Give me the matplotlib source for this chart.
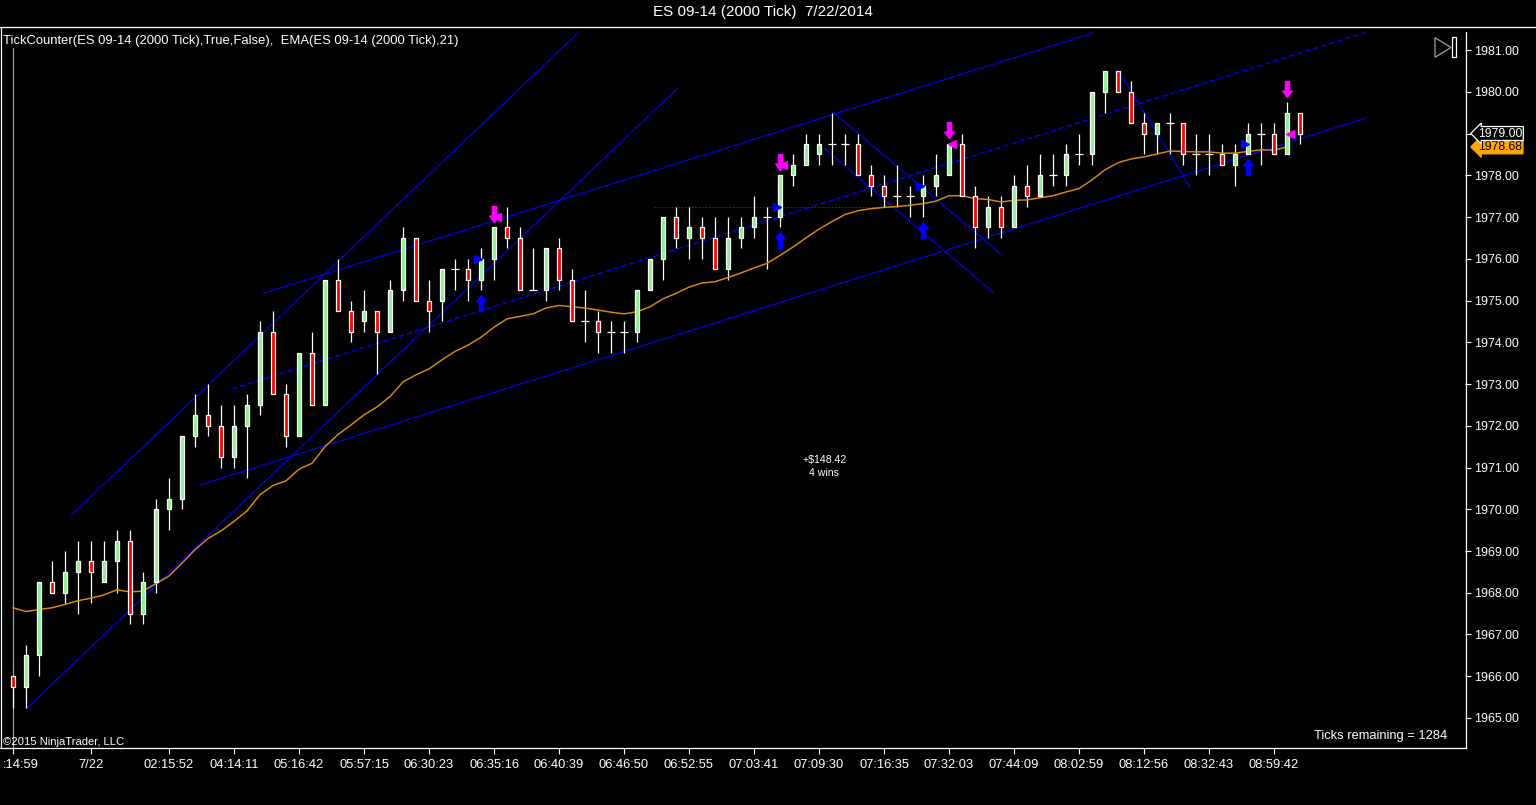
import matplotlib
matplotlib.use('Agg')
import matplotlib.pyplot as plt
from matplotlib.path import Path
from matplotlib.lines import Line2D
from matplotlib.patches import Polygon, Rectangle
from matplotlib.transforms import offset_copy, blended_transform_factory, ScaledTranslation
import numpy as np

plt.rcParams['font.family'] = ['Liberation Sans', 'DejaVu Sans']

# ---------------- data ----------------
opens = [1966.0, 1965.75, 1966.5, 1968.25, 1968.0, 1968.5, 1968.75, 1968.25, 1968.75, 1969.25,
         1967.5, 1968.25, 1970.0, 1970.25, 1971.75, 1972.25, 1972.0, 1971.25, 1972.0, 1972.5,
         1974.25, 1972.75, 1971.75, 1973.75, 1972.5, 1975.5, 1974.75, 1974.5, 1974.75, 1974.25,
         1975.25, 1976.5, 1975.0, 1975.0, 1975.75, 1975.75, 1975.5, 1976.0, 1976.75, 1976.5,
         1975.25, 1975.25, 1976.25, 1975.5, 1974.5, 1974.5, 1974.25, 1974.25, 1974.25, 1975.25,
         1976.0, 1977.0, 1976.5, 1976.75, 1976.5, 1975.75, 1976.5, 1976.75, 1977.0, 1977.0,
         1978.0, 1978.25, 1978.5, 1978.75, 1978.75, 1978.75, 1978.0, 1977.75, 1977.5, 1977.5,
         1977.5, 1977.75, 1978.0, 1978.75, 1977.5, 1976.75, 1977.25, 1976.75, 1977.75, 1977.5,
         1978.0, 1978.0, 1978.5, 1978.5, 1980.0, 1980.5, 1980.0, 1979.25, 1979.0, 1979.25,
         1979.25, 1978.5, 1978.5, 1978.5, 1978.25, 1978.5, 1979.0, 1979.0, 1978.5, 1979.5]
highs = [1966.0, 1966.75, 1968.25, 1968.75, 1969.0, 1969.25, 1969.25, 1969.25, 1969.5, 1969.5,
         1968.5, 1970.25, 1970.75, 1971.75, 1972.75, 1973.0, 1972.5, 1972.5, 1972.75, 1974.5,
         1974.75, 1973.0, 1973.75, 1974.25, 1975.5, 1976.0, 1975.0, 1975.25, 1974.75, 1975.5,
         1976.75, 1976.5, 1975.5, 1975.75, 1976.0, 1976.0, 1976.25, 1976.75, 1977.25, 1976.75,
         1976.25, 1976.25, 1976.5, 1975.75, 1975.25, 1974.75, 1974.5, 1974.5, 1975.25, 1976.0,
         1977.0, 1977.25, 1977.25, 1977.0, 1977.0, 1977.0, 1977.0, 1977.5, 1977.25, 1978.0,
         1978.5, 1979.0, 1979.0, 1979.5, 1979.0, 1979.0, 1978.25, 1978.0, 1978.25, 1977.75,
         1978.0, 1978.5, 1978.75, 1979.0, 1977.75, 1977.5, 1977.5, 1978.0, 1978.25, 1978.5,
         1978.5, 1978.75, 1979.0, 1980.0, 1980.5, 1980.5, 1980.25, 1979.5, 1979.25, 1979.5,
         1979.25, 1979.0, 1979.0, 1978.75, 1978.75, 1979.25, 1979.25, 1979.25, 1979.75, 1979.5]
lows = [1965.25, 1965.25, 1966.0, 1968.0, 1967.75, 1967.5, 1967.75, 1968.25, 1968.0, 1967.25,
        1967.25, 1968.0, 1969.5, 1970.0, 1971.5, 1971.75, 1971.0, 1971.0, 1970.75, 1972.25,
        1972.75, 1971.5, 1971.75, 1972.5, 1972.5, 1974.75, 1974.0, 1974.25, 1973.25, 1974.25,
        1975.0, 1975.0, 1974.25, 1974.5, 1975.25, 1975.0, 1975.25, 1975.5, 1976.25, 1975.25,
        1975.25, 1975.0, 1975.25, 1974.5, 1974.0, 1973.75, 1973.75, 1973.75, 1974.0, 1975.25,
        1975.5, 1976.25, 1976.0, 1976.0, 1975.75, 1975.5, 1976.25, 1976.5, 1975.75, 1976.75,
        1977.75, 1978.25, 1978.25, 1978.25, 1978.25, 1978.0, 1977.5, 1977.25, 1977.25, 1977.0,
        1977.0, 1977.5, 1978.0, 1977.5, 1976.25, 1976.5, 1976.5, 1976.75, 1977.25, 1977.5,
        1977.75, 1977.75, 1978.25, 1978.25, 1979.5, 1980.0, 1979.25, 1978.5, 1978.5, 1978.5,
        1978.25, 1978.0, 1978.0, 1978.25, 1977.75, 1978.5, 1978.25, 1978.5, 1978.5, 1978.75]
closes = [1965.75, 1966.5, 1968.25, 1968.0, 1968.5, 1968.75, 1968.5, 1968.75, 1969.25, 1967.5,
          1968.25, 1970.0, 1970.25, 1971.75, 1972.25, 1972.0, 1971.25, 1972.0, 1972.5, 1974.25,
          1972.75, 1971.75, 1973.75, 1972.5, 1975.5, 1974.75, 1974.25, 1974.75, 1974.25, 1975.25,
          1976.5, 1975.0, 1974.75, 1975.75, 1975.75, 1975.5, 1976.0, 1976.75, 1976.5, 1975.25,
          1975.25, 1976.25, 1975.5, 1974.5, 1974.5, 1974.25, 1974.25, 1974.25, 1975.25, 1976.0,
          1977.0, 1976.5, 1976.75, 1976.5, 1975.75, 1976.5, 1976.75, 1977.0, 1977.0, 1978.0,
          1978.25, 1978.75, 1978.75, 1978.75, 1978.75, 1978.0, 1977.75, 1977.5, 1977.5, 1977.5,
          1977.75, 1978.0, 1978.75, 1977.5, 1976.75, 1977.25, 1976.75, 1977.75, 1977.5, 1978.0,
          1978.0, 1978.5, 1978.5, 1980.0, 1980.5, 1980.0, 1979.25, 1979.0, 1979.25, 1979.25,
          1978.5, 1978.5, 1978.5, 1978.25, 1978.5, 1979.0, 1979.0, 1978.5, 1979.5, 1979.0]
ema21 = [1967.64, 1967.55, 1967.60, 1967.64, 1967.72, 1967.81, 1967.87, 1967.95, 1968.07, 1968.02,
         1968.04, 1968.22, 1968.40, 1968.71, 1969.03, 1969.30, 1969.48, 1969.71, 1969.96, 1970.35,
         1970.57, 1970.68, 1970.96, 1971.10, 1971.50, 1971.79, 1972.02, 1972.26, 1972.45, 1972.70,
         1973.05, 1973.22, 1973.36, 1973.58, 1973.78, 1973.93, 1974.12, 1974.36, 1974.56, 1974.62,
         1974.68, 1974.82, 1974.88, 1974.85, 1974.82, 1974.77, 1974.72, 1974.68, 1974.73, 1974.85,
         1975.04, 1975.17, 1975.32, 1975.42, 1975.45, 1975.55, 1975.66, 1975.78, 1975.89, 1976.08,
         1976.28, 1976.50, 1976.71, 1976.89, 1977.06, 1977.15, 1977.20, 1977.23, 1977.25, 1977.28,
         1977.32, 1977.38, 1977.51, 1977.51, 1977.44, 1977.42, 1977.36, 1977.40, 1977.41, 1977.46,
         1977.51, 1977.60, 1977.68, 1977.89, 1978.13, 1978.30, 1978.39, 1978.44, 1978.51, 1978.58,
         1978.57, 1978.56, 1978.56, 1978.53, 1978.53, 1978.57, 1978.61, 1978.60, 1978.68]

tick_bars = [0, 6, 12, 17, 22, 27, 32, 37, 42, 47, 52, 57, 62, 67, 72, 77, 82, 87, 92, 97]
tick_labels = [':14:59', '7/22', '02:15:52', '04:14:11', '05:16:42', '05:57:15', '06:30:23',
               '06:35:16', '06:40:39', '06:46:50', '06:52:55', '07:03:41', '07:09:30', '07:16:35',
               '07:32:03', '07:44:09', '08:02:59', '08:12:56', '08:32:43', '08:59:42']
price_ticks = list(range(1965, 1982))

# drawn trend lines: (bar0, price0, bar1, price1, style)
trend_lines = [
    (1.08, 1965.24, 51.15, 1980.09, 'solid'),
    (4.46, 1969.85, 43.46, 1981.41, 'solid'),
    (19.23, 1975.17, 83.08, 1981.41, 'solid'),
    (16.85, 1972.88, 104.15, 1981.43, 'dashed'),
    (14.38, 1970.58, 104.08, 1979.37, 'solid'),
    (63.08, 1979.51, 76.00, 1976.11, 'solid'),
    (62.46, 1978.63, 75.38, 1975.20, 'solid'),
    (85.00, 1980.52, 90.54, 1977.72, 'solid'),
]
hline_price, hline_from, hline_to = 1977.25, 49.3, 67.1

short_signal_bars = [37, 59, 72, 98]
long_signal_bars = [36, 59, 70, 95]
entry_bars = [36, 59, 70, 95]
entry_prices = [1976.0, 1977.25, 1977.75, 1978.75]
exit_bars = [37, 59, 72, 98]
exit_prices = [1977.0, 1978.25, 1978.75, 1979.0]
last_price = 1979.00
ema_last = 1978.68

# ---------------- figure ----------------
W, H = 1536, 805
fig = plt.figure(figsize=(W / 100, H / 100), dpi=100, facecolor='black')


def fx(x):
    return x / W


def fy(y):
    return 1 - y / H


ax = fig.add_axes([fx(1), fy(748), (1465 - 1) / W, (748 - 27) / H])
ax.set_facecolor('black')
ax.set_xlim(-12 / 13, 1452 / 13)
ax.set_ylim(1981 - 698 / 41.75, 1981 + 23 / 41.75)
for s in ax.spines.values():
    s.set_visible(False)

o = np.array(opens); h = np.array(highs); l = np.array(lows); c = np.array(closes)
x = np.arange(len(o))

# session line
ax.axvline(0, ymin=0, ymax=(748 - 48) / 721, color='#A8A8A8', lw=0.8, zorder=1)

# trend lines
for x0, p0, x1, p1, st in trend_lines:
    if st == 'dashed':
        ax.plot([x0, x1], [p0, p1], color='#0000FF', lw=1.0, dashes=(4, 2), zorder=2)
    else:
        ax.plot([x0, x1], [p0, p1], color='#0000EE', lw=0.85, zorder=2)
ax.plot([hline_from, hline_to], [hline_price, hline_price], color='#1A1AD0', lw=0.7,
        dashes=(2, 1.5), zorder=2)

# candles
ax.vlines(x, l, h, color='white', lw=0.9, zorder=3)
up = c > o
dn = c < o
dj = c == o
ax.bar(x[up], (c - o)[up], bottom=o[up], width=0.37, color='#90EE90', edgecolor='white',
       linewidth=0.9, zorder=4)
ax.bar(x[dn], (o - c)[dn], bottom=c[dn], width=0.37, color='#FF0000', edgecolor='white',
       linewidth=0.9, zorder=4)
ax.hlines(c[dj], x[dj] - 0.27, x[dj] + 0.27, color='white', lw=0.9, zorder=4)

# EMA
ax.plot(np.arange(len(ema21)), ema21, color='#DC8A0E', lw=1.05, zorder=3.5)

# arrow markers
down_arrow = Path([(-0.13, 0.5), (0.13, 0.5), (0.13, -0.1), (0.3, -0.1), (0.0, -0.5),
                   (-0.3, -0.1), (-0.13, -0.1), (-0.13, 0.5)],
                  [Path.MOVETO] + [Path.LINETO] * 6 + [Path.CLOSEPOLY])
up_arrow = Path([(-0.13, -0.5), (0.13, -0.5), (0.13, 0.1), (0.3, 0.1), (0.0, 0.5),
                 (-0.3, 0.1), (-0.13, 0.1), (-0.13, -0.5)],
                [Path.MOVETO] + [Path.LINETO] * 6 + [Path.CLOSEPOLY])
tr_up = offset_copy(ax.transData, fig=fig, x=0, y=13.5, units='dots')
tr_dn = offset_copy(ax.transData, fig=fig, x=0, y=-13, units='dots')
ax.plot(short_signal_bars, h[short_signal_bars], ls='none', marker=down_arrow, ms=11.5,
        color='#FF00FF', mec='#FF00FF', transform=tr_up, zorder=6)
ax.plot(long_signal_bars, l[long_signal_bars], ls='none', marker=up_arrow, ms=11.5,
        color='#0000FF', mec='#0000FF', transform=tr_dn, zorder=6)
tr_entry = offset_copy(ax.transData, fig=fig, x=-3, y=0, units='dots')
tr_exit = offset_copy(ax.transData, fig=fig, x=3, y=0, units='dots')
ax.plot(entry_bars, entry_prices, ls='none', marker='>', ms=6, color='#0000FF',
        mec='#0000FF', transform=tr_entry, zorder=6)
ax.plot(exit_bars, exit_prices, ls='none', marker='<', ms=6, color='#FF00FF',
        mec='#FF00FF', transform=tr_exit, zorder=6)

# axes ticks
ax.set_xticks(tick_bars)
ax.set_xticklabels(tick_labels)
ax.tick_params(axis='x', colors='white', length=4.3, width=0.8, pad=3.5, labelsize=9.3)
lab0 = ax.get_xticklabels()[0]
lab0.set_transform(lab0.get_transform() + ScaledTranslation(0.08, 0, fig.dpi_scale_trans))
ax.yaxis.tick_right()
ax.set_yticks(price_ticks)
# the last-price marker covers its own axis label, as in the chart
ax.set_yticklabels(['' if p == last_price else '{:.2f}'.format(p) for p in price_ticks])
ax.tick_params(axis='y', colors='white', length=4.3, width=0.8, pad=2, labelsize=8.9)

# frame lines
for (xa, ya, xb, yb) in [(0, 27, W, 27), (0.5, 27, 0.5, 748), (0, 748, 1465.5, 748),
                         (1465.5, 32, 1465.5, 748)]:
    fig.add_artist(Line2D([fx(xa), fx(xb)], [fy(ya), fy(yb)], color='white', lw=0.9))

# price markers on the right axis
bt = blended_transform_factory(fig.transFigure, ax.transData)
fig.text(fx(1478), ema_last, '{:.2f}'.format(ema_last), transform=bt, color='black',
         fontsize=8.7, ha='left', va='center',
         bbox=dict(boxstyle='larrow,pad=0.08', fc='#FFA500', ec='#FFA500', lw=0.9))
fig.text(fx(1478), last_price, '{:.2f}'.format(last_price), transform=bt, color='white',
         fontsize=8.7, ha='left', va='center',
         bbox=dict(boxstyle='larrow,pad=0.08', fc='black', ec='white', lw=0.9))

# texts
fig.text(fx(763), fy(12), 'ES 09-14 (2000 Tick)  7/22/2014', color='white', fontsize=11,
         ha='center', va='center')
fig.text(fx(3), fy(41), 'TickCounter(ES 09-14 (2000 Tick),True,False),  EMA(ES 09-14 (2000 Tick),21)',
         color='white', fontsize=9.4, ha='left', va='center')
fig.text(fx(825), fy(460), '+$148.42', color='white', fontsize=7.6, ha='center', va='center')
fig.text(fx(824), fy(473), '4 wins', color='white', fontsize=7.6, ha='center', va='center')
fig.text(fx(1447), fy(736), 'Ticks remaining = 1284', color='white', fontsize=9.3,
         ha='right', va='center')
fig.text(fx(3), fy(742), '\u00a92015 NinjaTrader, LLC', color='white', fontsize=8.1,
         ha='left', va='center')

# icon top right
fig.add_artist(Polygon([(fx(1435), fy(37.7)), (fx(1451), fy(47.5)), (fx(1435), fy(57.3))],
                       closed=True, fill=False, ec='#A0A0A0', lw=0.9, transform=fig.transFigure))
fig.add_artist(Rectangle((fx(1452.3), fy(57.3)), (1455.7 - 1452.3) / W, 20 / H, fill=False,
                         ec='white', lw=0.9, transform=fig.transFigure))

fig.savefig('out.png', dpi=100, facecolor='black')
